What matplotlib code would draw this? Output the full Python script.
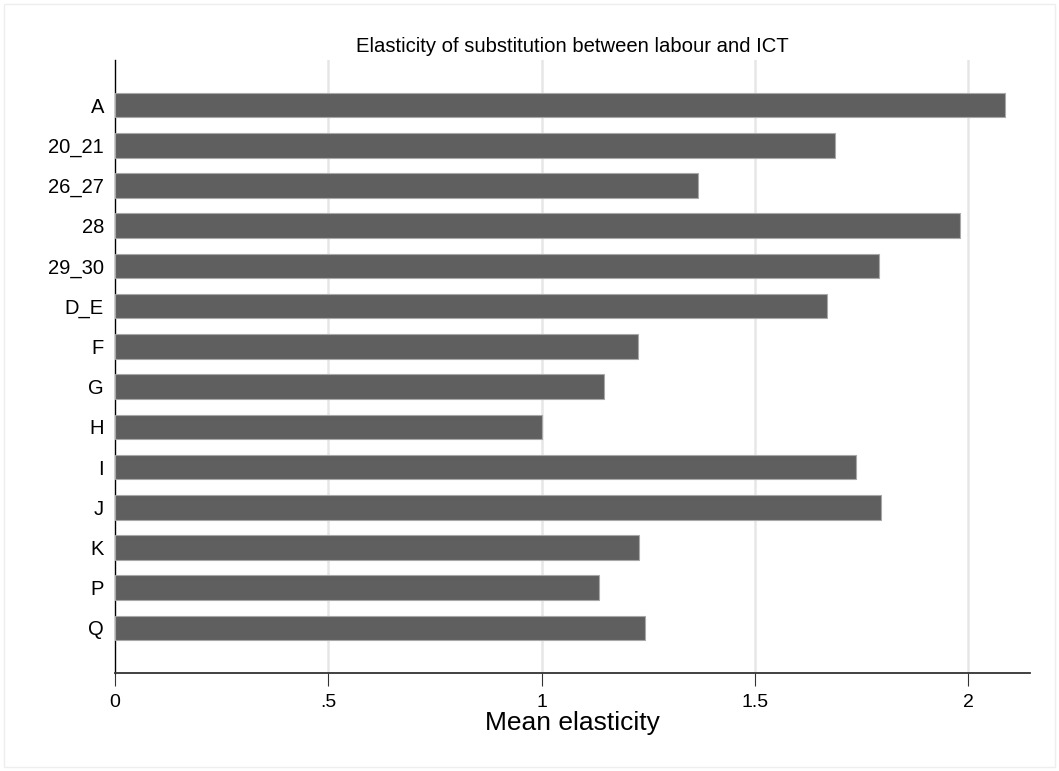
import matplotlib
matplotlib.use("Agg")
import matplotlib.pyplot as plt
from matplotlib.patches import Rectangle

# sector labels and mean elasticities (top to bottom)
sectors = ["A", "20_21", "26_27", "28", "29_30", "D_E", "F", "G", "H", "I", "J", "K", "P", "Q"]
elasticity = [2.087, 1.689, 1.367, 1.980, 1.791, 1.670, 1.226, 1.147, 1.000, 1.736, 1.796, 1.229, 1.135, 1.243]
xticks = [0, 0.5, 1, 1.5, 2]
xticklabels = ["0", ".5", "1", "1.5", "2"]

plt.rcParams['font.family'] = ['Liberation Sans', 'DejaVu Sans']

fig = plt.figure(figsize=(10.59, 7.71), dpi=100)
ax = fig.add_axes([0.1086, 0.1271, 0.8640, 0.7951])

# faint outer frame like stata graphs
fig.patches.append(Rectangle((0.004, 0.005), 0.992, 0.99, transform=fig.transFigure,
                             fill=False, edgecolor="#eeeeee", linewidth=1))

pos = list(range(len(sectors)))
ax.barh(pos, elasticity, height=0.61, color="#5f5f5f", edgecolor="#a8a8a8", linewidth=0.8, zorder=3)

ax.set_ylim(len(sectors) - 1 + 1.12, -1.12)
ax.set_xlim(0, 2.145)
ax.set_yticks(pos)
ax.set_yticklabels(sectors, fontsize=14.5)
ax.set_xticks(xticks)
ax.set_xticklabels(xticklabels, fontsize=14)
ax.tick_params(axis="y", length=0, pad=8)
ax.tick_params(axis="x", length=9, width=0.8, color="#333333", pad=6)

for g in xticks[1:]:
    ax.axvline(g, color="#e6e6e6", linewidth=1.8, zorder=1)

for s in ["top", "right"]:
    ax.spines[s].set_visible(False)
ax.spines["left"].set_linewidth(1.0)
ax.spines["bottom"].set_linewidth(1.3)
ax.spines["bottom"].set_color("#333333")

ax.set_xlabel("Mean elasticity", fontsize=19, labelpad=0)
ax.set_title("Elasticity of substitution between labour and ICT", fontsize=14.6, pad=6)

fig.savefig("out.png", dpi=100)
